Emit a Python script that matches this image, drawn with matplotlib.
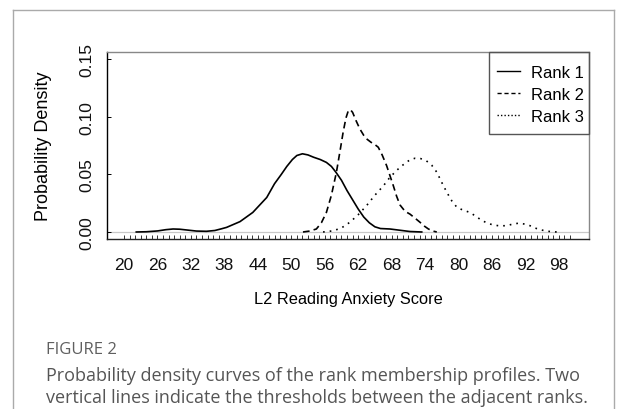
import matplotlib
matplotlib.use('Agg')
import matplotlib.pyplot as plt
from matplotlib.lines import Line2D
from matplotlib.patches import Rectangle

# values
rank1_x = [22.2, 24.0, 26.0, 27.5, 28.8, 30.0, 31.5, 33.0, 34.8, 36.3, 37.5, 38.4, 40.8, 43.1,
           45.6, 47.0, 48.2, 49.2, 50.2, 51.0, 52.0, 53.0, 54.0, 55.2, 56.3, 57.2, 58.0, 59.0,
           60.0, 61.0, 62.0, 63.0, 64.0, 65.0, 66.0, 67.7, 69.5, 71.3, 73.4]
rank1_y = [0.0, 0.0002, 0.0009, 0.002, 0.0026, 0.0024, 0.0016, 0.0008, 0.0006, 0.0013, 0.0028,
           0.004, 0.009, 0.017, 0.030, 0.042, 0.050, 0.057, 0.063, 0.0665, 0.068, 0.067, 0.065,
           0.063, 0.0605, 0.057, 0.052, 0.045, 0.036, 0.028, 0.020, 0.013, 0.008, 0.0045, 0.003,
           0.0026, 0.0015, 0.0004, 0.0]

rank2_x = [52.1, 53.3, 54.5, 55.4, 56.3, 57.2, 58.1, 58.8, 59.3, 59.8, 60.2, 60.6, 61.0, 61.6,
           62.3, 63.0, 63.5, 64.3, 65.0, 65.6, 66.3, 67.1, 67.7, 68.3, 68.9, 69.5, 70.4, 71.3,
           72.2, 73.1, 73.9, 74.6, 75.4, 76.1]
rank2_y = [0.0, 0.0008, 0.0026, 0.008, 0.017, 0.032, 0.052, 0.072, 0.0867, 0.099, 0.105, 0.1064,
           0.104, 0.097, 0.0896, 0.084, 0.081, 0.078, 0.076, 0.0737, 0.067, 0.0577, 0.049, 0.0403,
           0.031, 0.0235, 0.018, 0.0155, 0.012, 0.0084, 0.005, 0.0026, 0.0008, 0.0]

rank3_x = [55.7, 57.5, 59.0, 60.5, 62.0, 63.5, 65.0, 66.5, 67.7, 68.6, 69.5, 70.5, 71.3, 72.2,
           73.2, 74.2, 75.2, 76.1, 77.0, 77.9, 78.8, 79.7, 80.8, 82.0, 83.0, 83.8, 85.0, 86.2,
           87.4, 88.6, 89.7, 90.7, 91.7, 92.8, 93.7, 94.6, 96.0, 97.6]
rank3_y = [0.0, 0.001, 0.0035, 0.0084, 0.015, 0.0229, 0.032, 0.040, 0.0476, 0.052, 0.0563, 0.060,
           0.0628, 0.0641, 0.0638, 0.062, 0.058, 0.052, 0.043, 0.0345, 0.027, 0.0215, 0.019,
           0.0171, 0.014, 0.0113, 0.008, 0.0061, 0.0053, 0.0055, 0.0068, 0.0076, 0.007, 0.0055,
           0.0035, 0.002, 0.0006, 0.0]

series_names = ['Rank 1', 'Rank 2', 'Rank 3']
x_minor = list(range(20, 101))
x_labels = list(range(20, 99, 6))
y_ticks = [0.0, 0.05, 0.10, 0.15]
y_labels = ['0.00', '0.05', '0.10', '0.15']

plt.rcParams['font.family'] = ['Liberation Sans', 'DejaVu Sans']

fig = plt.figure(figsize=(6.25, 4.1), dpi=100)
ax = fig.add_axes([107 / 625, 1 - 240 / 410, (589 - 107) / 625, (240 - 53) / 410])

ax.axhline(0, color='#c8c8c8', lw=0.9, zorder=1)

lw = 1.2
ax.plot(rank1_x, rank1_y, color='black', lw=lw, solid_joinstyle='round')
ax.plot(rank2_x, rank2_y, color='black', lw=lw, dashes=(4, 2.5))
ax.plot(rank3_x, rank3_y, color='black', lw=lw, dashes=(1, 3))

ax.set_xlim(16.95, 103.4)
ax.set_ylim(-0.0061, 0.1565)

# small inward ticks at every integer, labels every 6
ax.set_xticks(x_minor)
ax.set_xticklabels(['' for v in x_minor])
ax.tick_params(axis='x', direction='in', length=3, width=0.7, color='#333333')
for v in x_labels:
    ax.text(v, -0.0215, str(v), ha='center', va='top', fontsize=12.5, color='#111111')

ax.set_yticks(y_ticks)
ax.set_yticklabels(y_labels, rotation=90, va='center', fontsize=12.5, color='#111111')
ax.tick_params(axis='y', direction='in', length=3, width=0.7, pad=9)

ax.set_xlabel('L2 Reading Anxiety Score', fontsize=11.8, labelpad=34)
ax.set_ylabel('Probability Density', fontsize=13, labelpad=20)

ax.spines['left'].set_color('black')
ax.spines['bottom'].set_color('#222222')
ax.spines['top'].set_color('#888888')
ax.spines['right'].set_color('#888888')
for s in ax.spines.values():
    s.set_linewidth(1.0)

# legend: entries without frame, box drawn separately (R style padding)
handles = [Line2D([], [], color='black', lw=1.0),
           Line2D([], [], color='black', lw=1.0, dashes=(3, 2)),
           Line2D([], [], color='black', lw=1.0, dashes=(1, 1.5))]
ax.legend(handles, series_names, loc='upper left', bbox_to_anchor=((497 - 107) / 482, (240 - 66) / 187),
          borderaxespad=0, borderpad=0, fontsize=12, frameon=False,
          handlelength=1.35, handletextpad=0.7, labelspacing=0.42)
ax.add_patch(Rectangle(((489 - 107) / 482, (240 - 135) / 187), (589 - 489) / 482, (135 - 53) / 187,
                       transform=ax.transAxes, fill=False, edgecolor='#555555', lw=1.0,
                       clip_on=False, zorder=5))

# outer frame of the figure panel
frame_color = '#aaaaaa'
fig.add_artist(Line2D([13 / 625, 13 / 625], [0, 1 - 11 / 410], color=frame_color, lw=1.0))
fig.add_artist(Line2D([13 / 625, 614 / 625], [1 - 11 / 410, 1 - 11 / 410], color=frame_color, lw=1.0))
fig.add_artist(Line2D([614 / 625, 614 / 625], [1 - 11 / 410, 0], color=frame_color, lw=1.0))

cap_font = ['Open Sans', 'DejaVu Sans']
fig.text(46 / 625, 1 - 350 / 410, 'FIGURE 2', fontsize=12, color='#5f5f5f',
         family=cap_font, va='center', ha='left', fontweight='medium')
fig.text(46 / 625, 1 - 376 / 410, 'Probability density curves of the rank membership profiles. Two',
         fontsize=13, color='#555555', family=cap_font, va='center', ha='left')
fig.text(46 / 625, 1 - 398 / 410, 'vertical lines indicate the thresholds between the adjacent ranks.',
         fontsize=13, color='#555555', family=cap_font, va='center', ha='left')

fig.savefig('out.png', dpi=100)
